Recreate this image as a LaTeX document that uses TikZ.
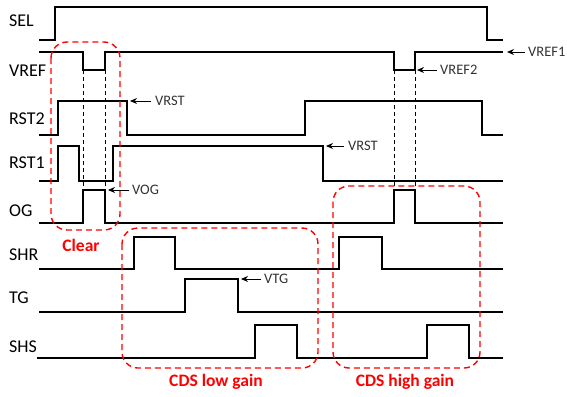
\documentclass[tikz,border=0pt]{standalone}
\usepackage{fontspec}
\setmainfont{Carlito}
\usetikzlibrary{arrows.meta}
\begin{document}
\begin{tikzpicture}[x=1pt,y=-1pt,
  wave/.style={line width=1.8pt, line join=miter, black},
  guide/.style={line width=0.9pt, dash pattern=on 4pt off 3pt, black},
  phase/.style={line width=1.4pt, red, dash pattern=on 6pt off 4pt, rounded corners=16pt},
  sig/.style={anchor=west, inner sep=0pt, font=\fontsize{18}{18}\selectfont},
  ann/.style={anchor=west, inner sep=0pt, font=\fontsize{14.5}{14.5}\selectfont, text=black!80},
  ptr/.style={line width=0.9pt, -{Stealth[length=7pt,width=6pt]}},
  phlabel/.style={inner sep=0pt, text=red, font=\fontsize{17.5}{17.5}\selectfont\bfseries}]
\useasboundingbox (0,0) rectangle (567,396);
% signal names
\node[sig] (lsel) at (9,21) {SEL};
\node[sig] (lvref) at (9,71) {VREF};
\node[sig] (lrst2) at (9,119) {RST2};
\node[sig] (lrst1) at (9,163) {RST1};
\node[sig] (log) at (9,211) {OG};
\node[sig] (lshr) at (9,255) {SHR};
\node[sig] (ltg) at (9,298) {TG};
\node[sig] (lshs) at (9,347) {SHS};
% waveforms
\draw[wave] (39,40)--(55,40)--(55,7)--(487,7)--(487,40)--(503,40);
\draw[wave] (39,52)--(83,52)--(83,70)--(105,70)--(105,52)--(394,52)--(394,70)--(415,70)--(415,52)--(503,52);
\draw[wave] (39,135)--(58,135)--(58,101)--(127,101)--(127,135)--(305,135)--(305,101)--(482,101)--(482,135)--(503,135);
\draw[wave] (39,181)--(58,181)--(58,146)--(79,146)--(79,181)--(113,181)--(113,146)--(323,146)--(323,181)--(503,181);
\draw[wave] (39,223)--(83,223)--(83,190)--(105,190)--(105,223)--(394,223)--(394,190)--(415,190)--(415,223)--(503,223);
\draw[wave] (39,269)--(134,269)--(134,237)--(175,237)--(175,269)--(339,269)--(339,237)--(382,237)--(382,269)--(503,269);
\draw[wave] (39,312)--(185,312)--(185,279)--(238,279)--(238,312)--(503,312);
\draw[wave] (37,358)--(255,358)--(255,325)--(297,325)--(297,358)--(427,358)--(427,325)--(469,325)--(469,358)--(503,358);
% guide lines
\draw[guide] (83,70)--(83,190);
\draw[guide] (105,70)--(105,190);
\draw[guide] (394,70)--(394,190);
\draw[guide] (415,70)--(415,190);
% annotations
\node[ann] (avref1) at (528,52) {VREF1};
\coordinate (tvref1) at (507,52);
\draw[ptr] (avref1.west)++(-3,0) -- (tvref1);
\node[ann] (avref2) at (440,70) {VREF2};
\coordinate (tvref2) at (417,70);
\draw[ptr] (avref2.west)++(-3,0) -- (tvref2);
\node[ann] (avrsta) at (155,101) {VRST};
\coordinate (tvrsta) at (130,101);
\draw[ptr] (avrsta.west)++(-4,0) -- (tvrsta);
\node[ann] (avrstb) at (348,146) {VRST};
\coordinate (tvrstb) at (326,146);
\draw[ptr] (avrstb.west)++(-4,0) -- (tvrstb);
\node[ann] (avog) at (132,190) {VOG};
\coordinate (tvog) at (108,190);
\draw[ptr] (avog.west)++(-3,0) -- (tvog);
\node[ann] (avtg) at (264,279) {VTG};
\coordinate (tvtg) at (241,279);
\draw[ptr] (avtg.west)++(-3,0) -- (tvtg);
% phase boxes
\draw[phase] (51,42) rectangle (120,230);
\draw[phase] (122,228) rectangle (318,368);
\draw[phase] (333,186) rectangle (480,368);
\node[phlabel] (pclear) at (81,245) {Clear};
\node[phlabel] (plow) at (216,382) {CDS low gain};
\node[phlabel] (phigh) at (405,382) {CDS high gain};
\end{tikzpicture}
\end{document}
